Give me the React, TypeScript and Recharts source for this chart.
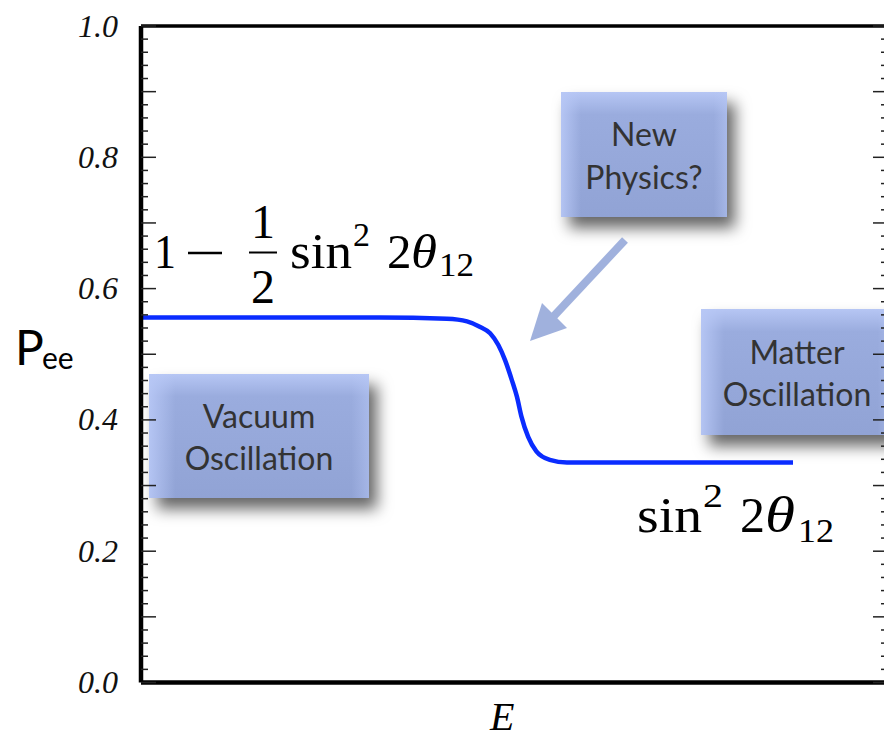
import React from "react";
import { LineChart, Line, XAxis, YAxis, ReferenceLine } from "recharts";

// ---- data ----
const energy = [0, 32.0, 41.0, 43.7, 45.4, 46.8, 47.9, 48.8, 49.7, 50.4, 51.0, 51.9, 53.0, 54.8, 57.1, 63.3, 87.4];
const pee = [0.556, 0.556, 0.554, 0.55, 0.542, 0.532, 0.514, 0.491, 0.461, 0.435, 0.405, 0.374, 0.352, 0.339, 0.335, 0.335, 0.335];
const yLabelTicks = [0, 0.2, 0.4, 0.6, 0.8, 1.0];
const yTickLabels = ["0.0", "0.2", "0.4", "0.6", "0.8", "1.0"];
const yAllTicks = Array.from({ length: 51 }, (_, i) => Math.round(i * 2) / 100);

const data = energy.map((e, i) => ({ e, p: pee[i] }));

// ---- layout ----
const CW = 892;
const CH = 737;
const PL = 141; // plot left
const PT = 26; // plot top
const PB = 682.5; // plot bottom
const PR = 887; // plot right
const X_DOMAIN = [0, 100];

const YTick = (props: any) => {
  const { y, payload } = props;
  const v = payload.value as number;
  const k = Math.round(v * 50);
  const major = k % 5 === 0;
  const labelIdx = yLabelTicks.findIndex((t) => Math.abs(t - v) < 1e-6);
  const len = major ? 15 : 7;
  const rlen = major ? 14 : 6;
  return (
    <g>
      <line x1={PL} x2={PL + len} y1={y} y2={y} stroke="#222" strokeWidth={1.5} />
      <line x1={PR - rlen} x2={PR} y1={y} y2={y} stroke="#222" strokeWidth={1.5} />
      {labelIdx >= 0 && (
        <text
          x={118}
          y={y}
          dy={10.5}
          textAnchor="end"
          fontFamily="Liberation Serif"
          fontStyle="italic"
          fontSize={32}
          fill="#111"
        >
          {yTickLabels[labelIdx]}
        </text>
      )}
    </g>
  );
};

const boxFont = "Lato, 'Open Sans', sans-serif";

const Box = ({ x, y, w, h, lines }: { x: number; y: number; w: number; h: number; lines: string[] }) => {
  const cx = x + w / 2;
  const cy = y + h / 2;
  return (
    <g>
      <rect x={x} y={y} width={w} height={h} fill="url(#boxV)" filter="url(#shadow)" />
      <rect x={x} y={y} width={w} height={h} fill="url(#boxH)" />
      <text x={cx} y={cy - 8.5} textAnchor="middle" fontFamily={boxFont} fontSize={32} fill="#333">
        {lines[0]}
      </text>
      <text x={cx} y={cy + 34} textAnchor="middle" fontFamily={boxFont} fontSize={32} fill="#333">
        {lines[1]}
      </text>
    </g>
  );
};

const mathFont = "'Liberation Serif', 'DejaVu Serif', serif";

const Overlay = () => (
  <svg width={884} height={737} style={{ position: "absolute", left: 0, top: 0 }}>
    <defs>
      <filter id="shadow" x="-20%" y="-20%" width="150%" height="160%">
        <feDropShadow dx="8" dy="11" stdDeviation="7.5" floodColor="#000" floodOpacity="0.6" />
      </filter>
      <linearGradient id="boxV" x1="0" y1="0" x2="0" y2="1">
        <stop offset="0%" stopColor="#b6c6f4" />
        <stop offset="18%" stopColor="#9aacde" />
        <stop offset="100%" stopColor="#91a3d5" />
      </linearGradient>
      <linearGradient id="boxH" x1="0" y1="0" x2="1" y2="0">
        <stop offset="0%" stopColor="#b8c8f6" stopOpacity="0.9" />
        <stop offset="12%" stopColor="#b8c8f6" stopOpacity="0" />
        <stop offset="92%" stopColor="#b8c8f6" stopOpacity="0" />
        <stop offset="100%" stopColor="#b8c8f6" stopOpacity="0.5" />
      </linearGradient>
    </defs>

    <Box x={561} y={92} w={166} h={125} lines={["New", "Physics?"]} />
    <Box x={149} y={374} w={220} h={124} lines={["Vacuum", "Oscillation"]} />
    <Box x={701} y={309} w={192} h={126} lines={["Matter", "Oscillation"]} />

    {/* arrow */}
    <line x1={625} y1={240} x2={553} y2={317} stroke="#a0b1dd" strokeWidth={8} />
    <polygon points="530,341 542,303 567,328" fill="#a0b1dd" />

    {/* upper formula */}
    <g fontFamily={mathFont} fill="#000">
      <text x={154} y={268} fontSize={48} textLength={22} lengthAdjust="spacingAndGlyphs">1</text>
      <line x1={188} x2={222} y1={253} y2={253} stroke="#000" strokeWidth={2.5} />
      <text x={263} y={238} fontSize={48} textAnchor="middle">1</text>
      <line x1={249} x2={277} y1={252.5} y2={252.5} stroke="#000" strokeWidth={2} />
      <text x={263} y={303} fontSize={48} textAnchor="middle">2</text>
      <text x={290} y={268} fontSize={50} textLength={62} lengthAdjust="spacingAndGlyphs">sin</text>
      <text x={353} y={246} fontSize={33} textLength={17} lengthAdjust="spacingAndGlyphs">2</text>
      <text x={387} y={268} fontSize={49}>2</text>
      <text x={411} y={268} fontSize={49} fontStyle="italic" textLength={26} lengthAdjust="spacingAndGlyphs">θ</text>
      <text x={439} y={276} fontSize={33} textLength={35} lengthAdjust="spacingAndGlyphs">12</text>
    </g>

    {/* lower formula */}
    <g fontFamily={mathFont} fill="#000">
      <text x={637} y={532} fontSize={50} textLength={65} lengthAdjust="spacingAndGlyphs">sin</text>
      <text x={703} y={507} fontSize={33} textLength={20} lengthAdjust="spacingAndGlyphs">2</text>
      <text x={740} y={532} fontSize={50}>2</text>
      <text x={765} y={532} fontSize={50} fontStyle="italic" textLength={30} lengthAdjust="spacingAndGlyphs">θ</text>
      <text x={798} y={542} fontSize={33} textLength={36} lengthAdjust="spacingAndGlyphs">12</text>
    </g>

    {/* axis titles */}
    <text x={15} y={365} fontFamily={boxFont} fontSize={48} fill="#000">P</text>
    <text x={42} y={369} fontFamily={boxFont} fontSize={30} fill="#000">ee</text>
    <text x={490} y={730} fontFamily={mathFont} fontStyle="italic" fontSize={40} fill="#000">E</text>
  </svg>
);

export default function App() {
  return (
    <div
      style={{
        position: "absolute",
        left: 0,
        top: 0,
        width: 884,
        height: 737,
        overflow: "hidden",
        background: "#fff",
      }}
    >
      <Overlay />
      <div style={{ position: "absolute", left: 0, top: 0 }}>
        <LineChart width={CW} height={CH} data={data} margin={{ top: PT, right: CW - PR, bottom: 0, left: 0 }}>
          <XAxis
            dataKey="e"
            type="number"
            domain={X_DOMAIN}
            tick={false}
            tickLine={false}
            height={CH - PB}
            axisLine={{ stroke: "#000", strokeWidth: 4.5 }}
          />
          <YAxis
            type="number"
            domain={[0, 1]}
            ticks={yAllTicks}
            interval={0}
            width={PL}
            tickLine={false}
            axisLine={{ stroke: "#000", strokeWidth: 4.5 }}
            tick={<YTick />}
          />
          <ReferenceLine y={1} stroke="#000" strokeWidth={3.5} />
          <Line
            dataKey="p"
            type="monotone"
            stroke="#0a2cff"
            strokeWidth={4.5}
            dot={false}
            isAnimationActive={false}
          />
        </LineChart>
      </div>
    </div>
  );
}
